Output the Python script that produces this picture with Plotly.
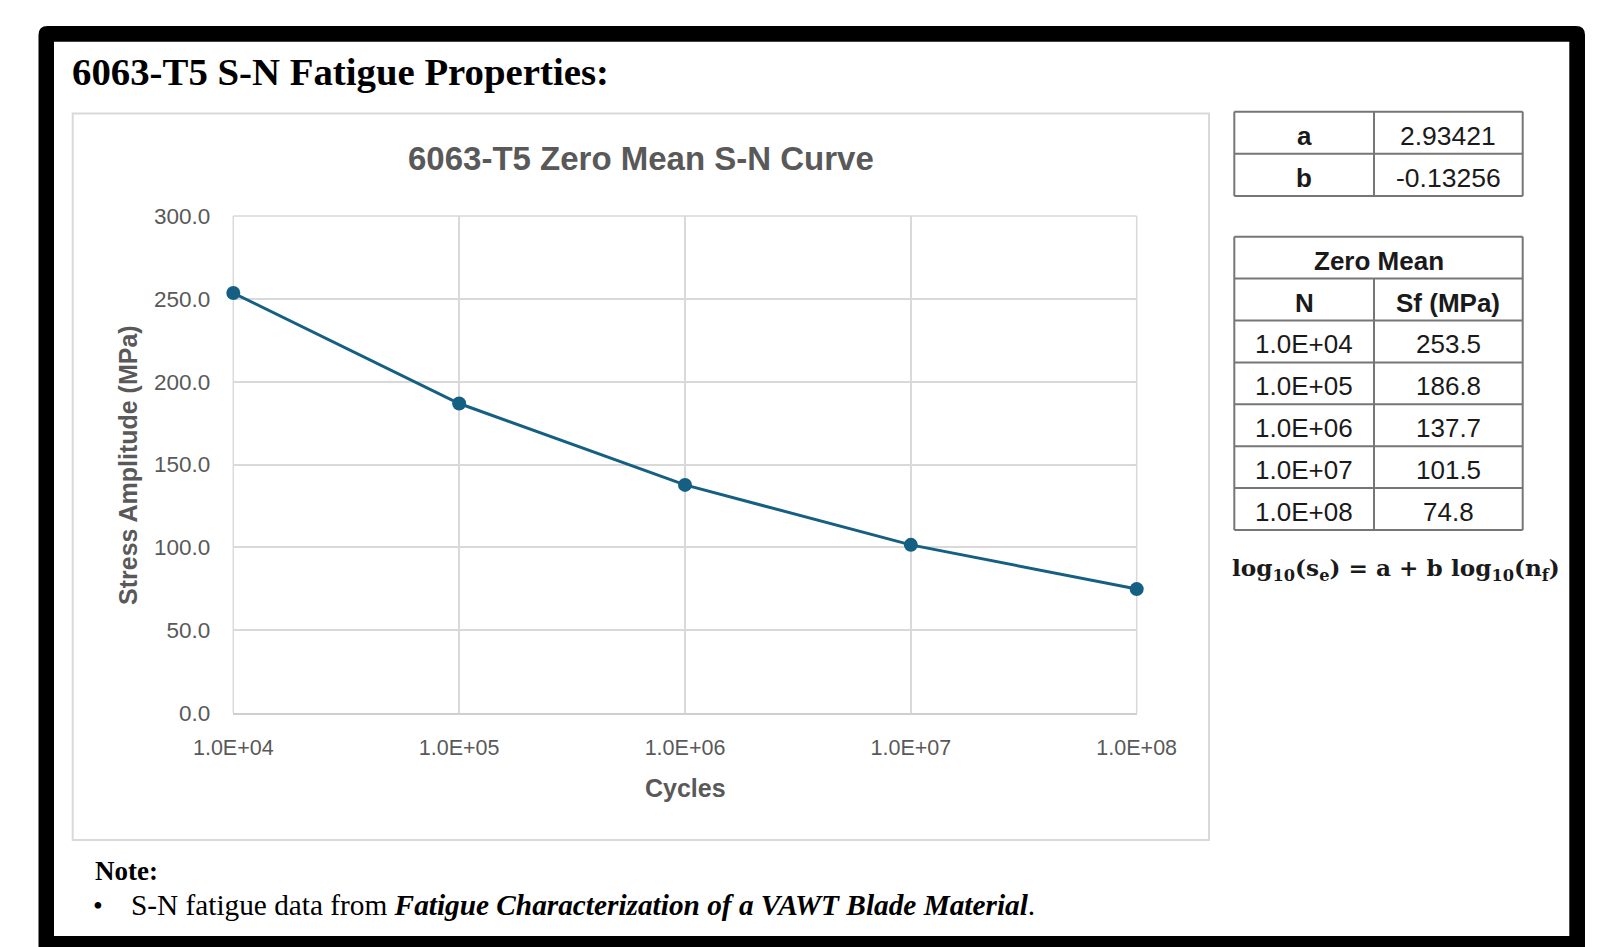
import plotly.graph_objects as go

W, H = 1605, 947

# ---------------- data ----------------
PAGE_TITLE = "6063-T5 S-N Fatigue Properties:"
CHART_TITLE = "6063-T5 Zero Mean S-N Curve"
X_TITLE = "Cycles"
Y_TITLE = "Stress Amplitude (MPa)"
cycles = [1e4, 1e5, 1e6, 1e7, 1e8]
cycle_labels = ["1.0E+04", "1.0E+05", "1.0E+06", "1.0E+07", "1.0E+08"]
stress = [253.5, 186.8, 137.7, 101.5, 74.8]
y_ticks = [0, 50, 100, 150, 200, 250, 300]
param_names = ["a", "b"]
param_values = ["2.93421", "-0.13256"]
table_group = "Zero Mean"
table_header = ["N", "Sf (MPa)"]
FORMULA = "log<sub>10</sub>(s<sub>e</sub>) = a + b log<sub>10</sub>(n<sub>f</sub>)"
NOTE_HEAD = "Note:"
NOTE_TEXT = "S-N fatigue data from <b><i>Fatigue Characterization of a VAWT Blade Material</i></b>."


def px(x):
    return x / W


def py(y):
    return 1 - y / H


LINE = "#156082"
GRAY = "#595959"
GRID = "#d9d9d9"
TBL = "#767676"
SANS = "Liberation Sans, Arial, sans-serif"
SERIF = "Liberation Serif, Times New Roman, serif"

fig = go.Figure(
    go.Scatter(
        x=cycles, y=stress, mode="lines+markers",
        line=dict(color=LINE, width=3),
        marker=dict(size=14, color=LINE),
        cliponaxis=False, hoverinfo="x+y",
    )
)

shapes = []
# black frame with rounded top corners
ox0, oy0, ox1, oy1, r = 38.5, 26, 1585, 947, 9
path = (f"M {px(ox0)},{py(oy1)} L {px(ox0)},{py(oy0 + r)} Q {px(ox0)},{py(oy0)} {px(ox0 + r)},{py(oy0)} "
        f"L {px(ox1 - r)},{py(oy0)} Q {px(ox1)},{py(oy0)} {px(ox1)},{py(oy0 + r)} L {px(ox1)},{py(oy1)} Z")
shapes.append(dict(type="path", xref="paper", yref="paper", path=path,
                   fillcolor="black", line=dict(width=0), layer="below"))
shapes.append(dict(type="rect", xref="paper", yref="paper",
                   x0=px(54), x1=px(1569.3), y0=py(936), y1=py(41.7),
                   fillcolor="white", line=dict(width=0), layer="below"))
# chart area box
shapes.append(dict(type="rect", xref="paper", yref="paper",
                   x0=px(72.7), x1=px(1209), y0=py(840), y1=py(113.6),
                   fillcolor="white", line=dict(color=GRID, width=2), layer="below"))
# plot-area edge grid lines (left, right, top)
for xd in (0, 1):
    shapes.append(dict(type="line", xref="x domain", yref="y domain", x0=xd, x1=xd, y0=0, y1=1,
                       line=dict(color=GRID, width=1.5), layer="below"))
shapes.append(dict(type="line", xref="x domain", yref="y domain", x0=0, x1=1, y0=1, y1=1,
                   line=dict(color=GRID, width=1.5), layer="below"))


def hline(x0, x1, y):
    shapes.append(dict(type="line", xref="paper", yref="paper", x0=px(x0), x1=px(x1),
                       y0=py(y), y1=py(y), line=dict(color=TBL, width=2)))


def vline(x, y0, y1):
    shapes.append(dict(type="line", xref="paper", yref="paper", x0=px(x), x1=px(x),
                       y0=py(y0), y1=py(y1), line=dict(color=TBL, width=2)))


annotations = []


def text(x, y, s, size, family=SANS, color="#1a1a1a", xanchor="center", angle=0):
    annotations.append(dict(xref="paper", yref="paper", x=px(x), y=py(y), text=s,
                            showarrow=False, xanchor=xanchor, yanchor="middle",
                            textangle=angle, font=dict(family=family, size=size, color=color)))


CELL_DY = 3  # cell text sits slightly below the cell centre

# ---------------- table 1 (a, b) ----------------
tx0, txm, tx1 = 1234.3, 1374, 1522.7
t1_top, t1_rh = 111.7, 42.15
n1 = len(param_names)
for i in range(n1 + 1):
    hline(tx0, tx1, t1_top + i * t1_rh)
vline(tx0, t1_top, t1_top + n1 * t1_rh)
vline(txm, t1_top, t1_top + n1 * t1_rh)
vline(tx1, t1_top, t1_top + n1 * t1_rh)
for i, (nm, val) in enumerate(zip(param_names, param_values)):
    yc = t1_top + (i + 0.5) * t1_rh + CELL_DY
    text((tx0 + txm) / 2, yc, f"<b>{nm}</b>", 26)
    text((txm + tx1) / 2, yc, val, 26.5)

# ---------------- table 2 (Zero Mean) ----------------
t2_top, t2_rh = 236.7, 41.9
n2 = 2 + len(cycles)
for i in range(n2 + 1):
    hline(tx0, tx1, t2_top + i * t2_rh)
vline(tx0, t2_top, t2_top + n2 * t2_rh)
vline(tx1, t2_top, t2_top + n2 * t2_rh)
vline(txm, t2_top + t2_rh, t2_top + n2 * t2_rh)
text((tx0 + tx1) / 2, t2_top + 0.5 * t2_rh + CELL_DY, f"<b>{table_group}</b>", 26)
text((tx0 + txm) / 2, t2_top + 1.5 * t2_rh + CELL_DY, f"<b>{table_header[0]}</b>", 26)
text((txm + tx1) / 2, t2_top + 1.5 * t2_rh + CELL_DY, f"<b>{table_header[1]}</b>", 26)
for i, (lab, s) in enumerate(zip(cycle_labels, stress)):
    yc = t2_top + (i + 2.5) * t2_rh + CELL_DY
    text((tx0 + txm) / 2, yc, lab, 26)
    text((txm + tx1) / 2, yc, f"{s:.1f}", 26)

# formula
text(1230, 569, f"<b>{FORMULA}</b>", 23.2, family="DejaVu Serif, serif", xanchor="left")

# titles
text(69.5, 72, f"<b>{PAGE_TITLE}</b>", 38.8, family=SERIF, color="black", xanchor="left")
text(640.5, 158, f"<b>{CHART_TITLE}</b>", 33, color=GRAY)
text(685, 788, f"<b>{X_TITLE}</b>", 25, color=GRAY)
text(128, 465, f"<b>{Y_TITLE}</b>", 25, color=GRAY, angle=-90)

# note
text(92.5, 871, f"<b>{NOTE_HEAD}</b>", 27, family=SERIF, color="black", xanchor="left")
text(91, 905, "\u2022", 28, family=SERIF, color="black", xanchor="left")
text(129, 905, NOTE_TEXT, 29.3, family=SERIF, color="black", xanchor="left")

fig.update_layout(
    width=W, height=H, autosize=False,
    margin=dict(l=0, r=0, t=0, b=0, pad=0, autoexpand=False),
    paper_bgcolor="white", plot_bgcolor="rgba(0,0,0,0)",
    showlegend=False,
    shapes=shapes, annotations=annotations,
    xaxis=dict(
        type="log", range=[4, 8], domain=[px(233.3), px(1136.7)],
        tickvals=cycles, ticktext=cycle_labels,
        showgrid=True, gridcolor=GRID, gridwidth=1.5,
        showline=True, linecolor="#cfcfcf", linewidth=2,
        zeroline=False, ticks="", ticklabelstandoff=14, automargin=False,
        tickfont=dict(family=SANS, size=21.5, color=GRAY),
        fixedrange=True,
    ),
    yaxis=dict(
        range=[0, 300], domain=[py(713), py(216)],
        tickvals=y_ticks, tickformat=".1f",
        showgrid=True, gridcolor=GRID, gridwidth=1.5,
        showline=False, zeroline=False, ticks="", ticklabelstandoff=22, automargin=False,
        tickfont=dict(family=SANS, size=22.5, color=GRAY),
        fixedrange=True,
    ),
)

fig.write_html("out.html")
